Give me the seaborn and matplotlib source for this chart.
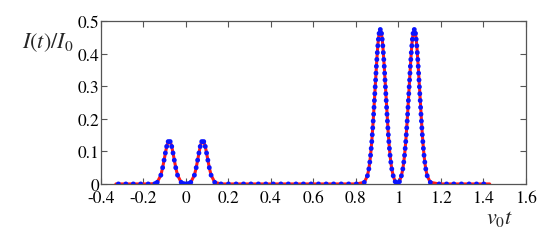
import seaborn as sns
import numpy as np
import matplotlib.pyplot as plt
import pandas as pd

dot_x = [-0.318, -0.283, -0.248, -0.213, -0.178, -0.146,
         # small peak 1
         -0.1354, -0.1183, -0.1098, -0.1031, -0.097, -0.0909, -0.0837,
         -0.0743, -0.0671, -0.061, -0.0549, -0.0482, -0.0397, -0.0226,
         -0.011, 0.0, 0.011,
         # small peak 2
         0.0226, 0.0397, 0.0482, 0.0549, 0.061, 0.0671, 0.0743,
         0.0837, 0.0909, 0.097, 0.1031, 0.1098, 0.1183, 0.1354,
         # flat middle
         0.165, 0.2, 0.236, 0.271, 0.306, 0.341, 0.376, 0.411, 0.447, 0.482,
         0.518, 0.553, 0.589, 0.624, 0.66, 0.695, 0.731, 0.766, 0.802,
         # big peak 1
         0.8396, 0.8543, 0.861, 0.8655, 0.8691, 0.8721, 0.8748, 0.8772,
         0.8794, 0.8815, 0.8835, 0.8854, 0.8872, 0.8891, 0.8909, 0.8928,
         0.8946, 0.8965, 0.8986, 0.9008, 0.9032, 0.906, 0.9093, 0.915,
         0.9207, 0.924, 0.9268, 0.9292, 0.9314, 0.9335, 0.9354, 0.9372,
         0.9391, 0.9409, 0.9428, 0.9446, 0.9465, 0.9485, 0.9506, 0.9528,
         0.9552, 0.9579, 0.9609, 0.9645, 0.969, 0.9757,
         0.985, 0.995, 1.005,
         # big peak 2
         1.0143, 1.021, 1.0255, 1.0291, 1.0321, 1.0348, 1.0372, 1.0394,
         1.0415, 1.0435, 1.0454, 1.0472, 1.0491, 1.0509, 1.0528, 1.0546,
         1.0565, 1.0586, 1.0608, 1.0632, 1.066, 1.0693, 1.075,
         1.0807, 1.084, 1.0868, 1.0892, 1.0914, 1.0935, 1.0954, 1.0972,
         1.0991, 1.1009, 1.1028, 1.1046, 1.1065, 1.1085, 1.1106, 1.1128,
         1.1152, 1.1179, 1.1209, 1.1245, 1.129, 1.1357, 1.1504,
         # flat end
         1.192, 1.227, 1.261, 1.297, 1.333, 1.368, 1.402]

dot_y = [0, 0, 0, 0, 0, 0.001,
         0.005, 0.027, 0.05, 0.073, 0.095, 0.115, 0.13,
         0.13, 0.115, 0.095, 0.073, 0.05, 0.027, 0.005,
         0.001, 0.0, 0.001,
         0.005, 0.027, 0.05, 0.073, 0.095, 0.115, 0.13,
         0.13, 0.115, 0.095, 0.073, 0.05, 0.027, 0.005,
         0, 0, 0, 0, 0, 0, 0, 0, 0, 0,
         0, 0, 0, 0, 0, 0, 0, 0, 0,
         0.005, 0.025, 0.046, 0.067, 0.088, 0.109, 0.13, 0.151,
         0.172, 0.193, 0.214, 0.235, 0.256, 0.277, 0.298, 0.319,
         0.34, 0.361, 0.382, 0.403, 0.424, 0.444, 0.462, 0.474,
         0.462, 0.444, 0.424, 0.403, 0.382, 0.361, 0.34, 0.319,
         0.298, 0.277, 0.256, 0.235, 0.214, 0.193, 0.172, 0.151,
         0.13, 0.109, 0.088, 0.067, 0.046, 0.025,
         0.007, 0.003, 0.007,
         0.025, 0.046, 0.067, 0.088, 0.109, 0.13, 0.151, 0.172,
         0.193, 0.214, 0.235, 0.256, 0.277, 0.298, 0.319, 0.34,
         0.361, 0.382, 0.403, 0.424, 0.444, 0.462, 0.474,
         0.462, 0.444, 0.424, 0.403, 0.382, 0.361, 0.34, 0.319,
         0.298, 0.277, 0.256, 0.235, 0.214, 0.193, 0.172, 0.151,
         0.13, 0.109, 0.088, 0.067, 0.046, 0.025, 0.005,
         0, 0, 0, 0, 0, 0, 0]

# the red curve runs a little past the first and last dots
line_start = (-0.33, 0.0)
line_end = (1.43, 0.0)

x_ticks = [-0.4, -0.2, 0, 0.2, 0.4, 0.6, 0.8, 1, 1.2, 1.4, 1.6]
x_tick_labels = ['-0.4', '-0.2', '0', '0.2', '0.4', '0.6', '0.8', '1', '1.2', '1.4', '1.6']
y_ticks = [0, 0.1, 0.2, 0.3, 0.4, 0.5]
y_tick_labels = ['0', '0.1', '0.2', '0.3', '0.4', '0.5']

dots = pd.DataFrame({'x': dot_x, 'y': dot_y})
curve = pd.DataFrame({'x': [line_start[0]] + dot_x + [line_end[0]],
                      'y': [line_start[1]] + dot_y + [line_end[1]]})

sns.set_style("ticks")
plt.rcParams['font.family'] = ['STIXGeneral', 'Liberation Serif', 'DejaVu Serif']
plt.rcParams['mathtext.fontset'] = 'stix'
plt.rcParams['axes.unicode_minus'] = False

fig = plt.figure(figsize=(5.46, 2.53), dpi=100)
ax = fig.add_axes([0.185, 0.269, 0.778, 0.644])

sns.lineplot(data=curve, x='x', y='y', sort=False, estimator=None,
             color='#ff1a1a', lw=2.2, ax=ax)
sns.scatterplot(data=dots, x='x', y='y', color='#0a14ff', s=12,
                edgecolor='none', ax=ax, zorder=3)

ax.set_xlim(-0.4, 1.6)
ax.set_ylim(0, 0.5)
ax.set_xticks(x_ticks)
ax.set_xticklabels(x_tick_labels)
ax.set_yticks(y_ticks)
ax.set_yticklabels(y_tick_labels)
ax.set_xlabel('')
ax.set_ylabel('')

for s in ax.spines.values():
    s.set_color('#555555')
    s.set_linewidth(0.9)
ax.tick_params(direction='in', length=4, width=0.8, color='#555555',
               top=True, right=True, labelsize=12.5, labelcolor='black')
ax.tick_params(axis='x', pad=4.5)
ax.tick_params(axis='y', pad=1)

fig.text(0.04, 0.83, r'$I(t)/I_0$', fontsize=16, ha='left', va='center')
fig.text(0.915, 0.135, r'$v_0t$', fontsize=16, ha='center', va='center')

plt.savefig('out.png', dpi=100)
